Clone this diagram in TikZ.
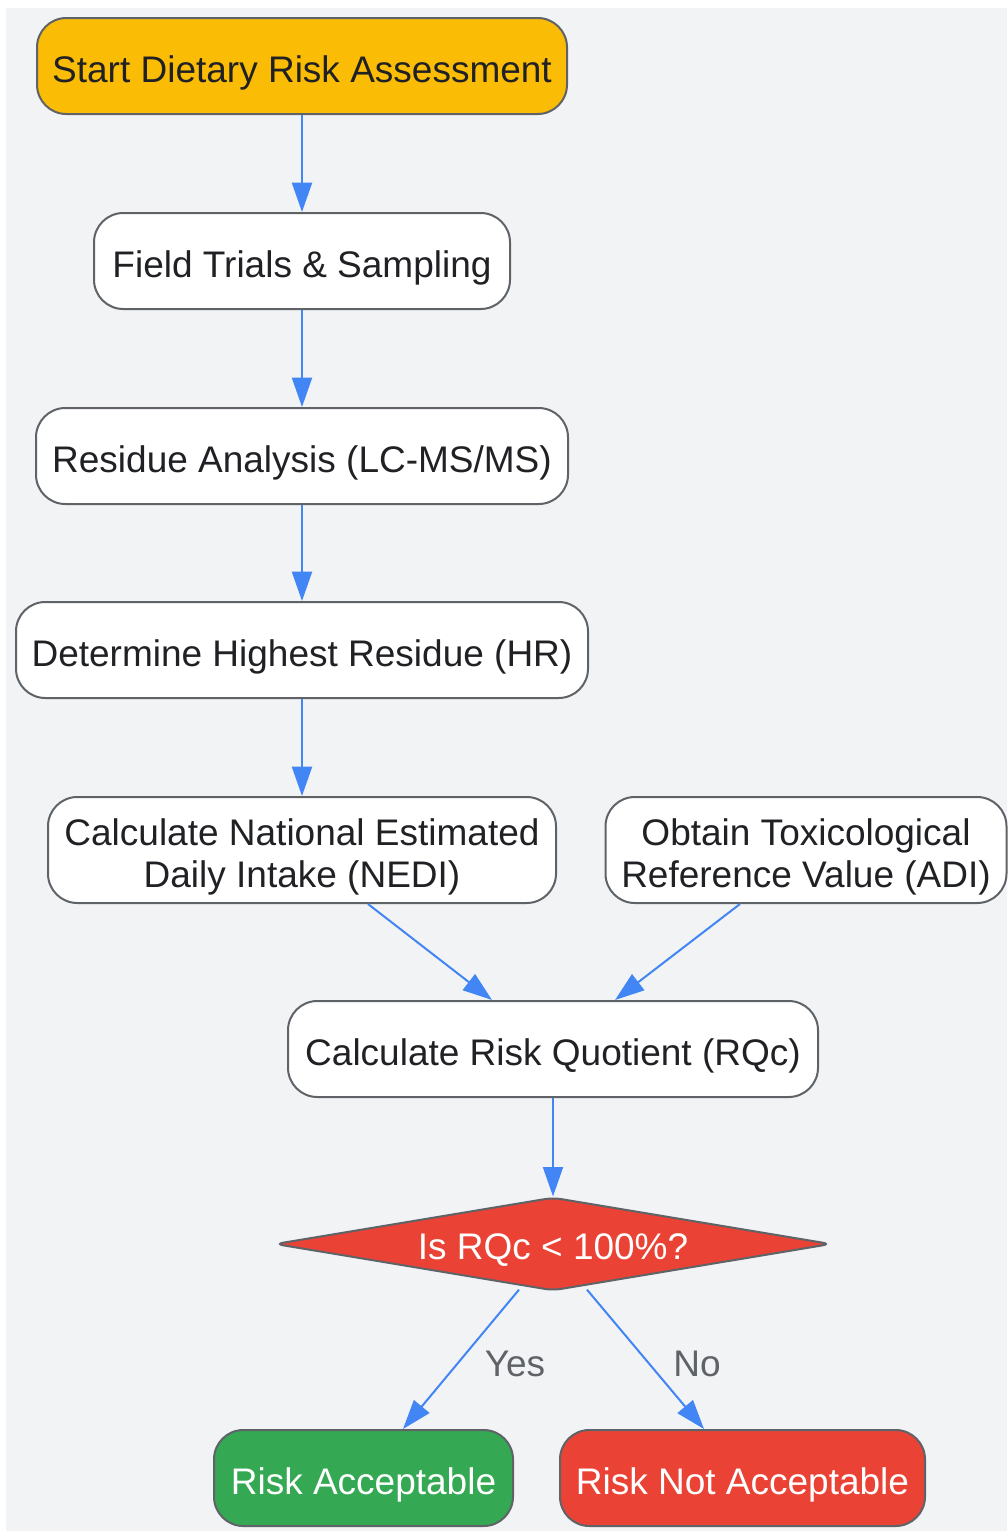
\documentclass[tikz,border=0pt]{standalone}
\usepackage{fontspec}
\setmainfont{Liberation Sans}
\usetikzlibrary{shapes.geometric,arrows.meta,calc}
\definecolor{bgc}{HTML}{F1F3F4}
\definecolor{yel}{HTML}{FBBC05}
\definecolor{grn}{HTML}{34A853}
\definecolor{redc}{HTML}{EA4335}
\definecolor{blu}{HTML}{4285F4}
\definecolor{brd}{HTML}{5F6368}
\definecolor{txt}{HTML}{202124}
\newcommand{\topstrut}{\rule{0pt}{30pt}}
\newcommand{\botstrut}{\rule[-6pt]{0pt}{6pt}}
\tikzset{
  box/.style={draw=brd, line width=1.5pt, fill=white, rounded corners=22pt,
    inner sep=0pt, align=center, text=txt,
    font=\fontsize{27.75}{31.5}\selectfont,
    execute at begin node={\topstrut},
    execute at end node={\botstrut}},
  decision/.style={draw=brd, line width=1.5pt, fill=redc, text=white, shape=diamond,
    rounded corners=6pt, inner sep=0pt, aspect=5.9,
    font=\fontsize{27.75}{31.5}\selectfont},
  arr/.style={draw=blu, line width=1.5pt, -{Triangle[length=22pt,width=15pt]}},
  lbl/.style={text=brd, font=\fontsize{27.75}{31.5}\selectfont}
}
\begin{document}
\begin{tikzpicture}[x=0.75pt,y=-0.75pt]
\useasboundingbox (0,0) rectangle (1007,1531);
\fill[bgc] (6,8) rectangle (1007,1531);
\node[box, fill=yel, minimum width=397.5pt, minimum height=72pt] (start) at (302,66) {Start Dietary Risk Assessment};
\node[box, minimum width=312pt, minimum height=72pt] (field) at (302,261) {Field Trials \& Sampling};
\node[box, minimum width=399pt, minimum height=72pt] (resid) at (302,456) {Residue Analysis (LC-MS/MS)};
\node[box, minimum width=429pt, minimum height=72pt] (hr) at (302,650) {Determine Highest Residue (HR)};
\node[box, minimum width=381pt, minimum height=79.5pt] (nedi) at (302,850) {\topstrut Calculate National Estimated\\Daily Intake (NEDI)\botstrut};
\node[box, minimum width=300.75pt, minimum height=79.5pt] (adi) at (806,850) {\topstrut Obtain Toxicological\\Reference Value (ADI)\botstrut};
\node[box, minimum width=397.5pt, minimum height=72pt] (rqc) at (553,1049) {Calculate Risk Quotient (RQc)};
\node[decision, minimum width=417pt, minimum height=70pt] (dec) at (553,1244) {\raisebox{-11.5pt}[0pt][0pt]{Is RQc < 100\%?}};
\node[box, fill=grn, text=white, minimum width=224.25pt, minimum height=72pt] (acc) at (363.5,1478) {Risk Acceptable};
\node[box, fill=redc, text=white, minimum width=273.75pt, minimum height=72pt] (nacc) at (742.5,1478) {Risk Not Acceptable};

\draw[arr] (start) -- (field);
\draw[arr] (field) -- (resid);
\draw[arr] (resid) -- (hr);
\draw[arr] (hr) -- (nedi);
\draw[arr] ($(nedi.south)+(66,0)$) -- ($(rqc.north)+(-61,0)$);
\draw[arr] ($(adi.south)+(-66,0)$) -- ($(rqc.north)+(62,0)$);
\draw[arr] (rqc) -- (dec);
\draw[arr] ($(dec.south)+(-34,-2)$) -- node[lbl, pos=0.5, xshift=40.5pt, yshift=-3.75pt] (yes) {Yes} ($(acc.north)+(39.5,0)$);
\draw[arr] ($(dec.south)+(34,-2)$) -- node[lbl, pos=0.5, xshift=38.6pt, yshift=-3.75pt] (no) {No} ($(nacc.north)+(-38.5,0)$);
\end{tikzpicture}
\end{document}
